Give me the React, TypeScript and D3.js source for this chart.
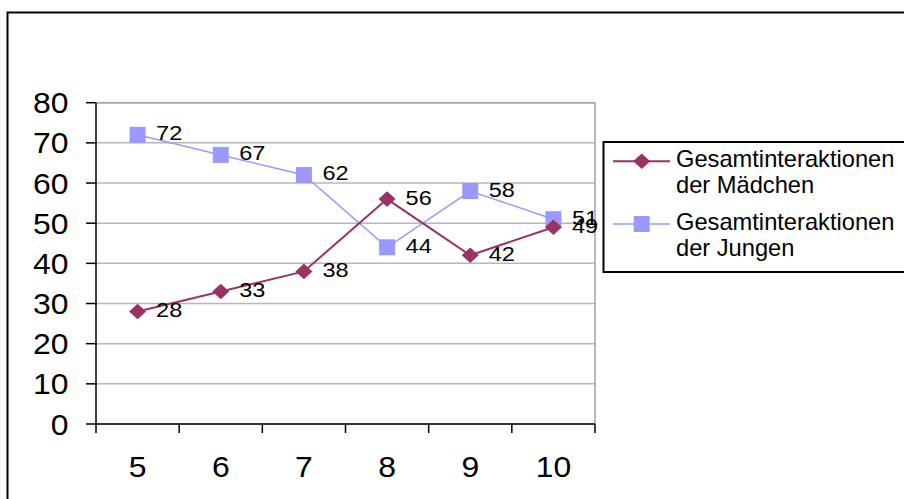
import React from "react";
import * as d3 from "d3";

const categories = ["5", "6", "7", "8", "9", "10"];
const maedchen = [28, 33, 38, 56, 42, 49];
const jungen = [72, 67, 62, 44, 58, 51];
const yTicks = [0, 10, 20, 30, 40, 50, 60, 70, 80];
const seriesNames = [
  ["Gesamtinteraktionen", "der Mädchen"],
  ["Gesamtinteraktionen", "der Jungen"],
];

const W = 904;
const H = 499;
const M = { left: 96, right: 595, top: 102.7, bottom: 424 };
const C_M = "#993366";
const C_J = "#9999FF";
const FONT = "'Liberation Sans', Arial, sans-serif";

type TProps = { x: number; y: number; sx: number; size: number; anchor?: string; children: React.ReactNode };
function SText({ x, y, sx, size, anchor = "start", children }: TProps) {
  return (
    <text transform={`translate(${x},${y}) scale(${sx},1)`} textAnchor={anchor} fontSize={size} fill="#000">
      {children}
    </text>
  );
}

export default function App() {
  const x = d3.scaleBand<string>().domain(categories).range([M.left, M.right]).paddingInner(0).paddingOuter(0);
  const y = d3.scaleLinear().domain([0, 80]).range([M.bottom, M.top]);
  const cx = (c: string) => (x(c) as number) + x.bandwidth() / 2;
  const line = d3
    .line<number>()
    .x((_, i) => cx(categories[i]))
    .y((d) => y(d));
  const diamond = (px: number, py: number, r = 8.5, ry = 7.8) =>
    `M${px},${py - ry}L${px + r},${py}L${px},${py + ry}L${px - r},${py}Z`;
  const boundaries = [...categories.map((c) => x(c) as number), M.right];

  return (
    <div style={{ position: "absolute", left: 0, top: 0 }}>
      <svg width={W} height={H} style={{ display: "block", fontFamily: FONT }}>
        <rect x={0} y={0} width={W} height={H} fill="#fff" />
        <rect x={7.5} y={12.5} width={W + 20} height={H + 20} fill="none" stroke="#000" strokeWidth={2} />
        {yTicks.map((t) => (
          <line key={"g" + t} x1={M.left} x2={M.right} y1={y(t)} y2={y(t)} stroke="#b8b8b8" strokeWidth={1.5} />
        ))}
        <line x1={M.right} x2={M.right} y1={M.top} y2={M.bottom} stroke="#a0a0a0" strokeWidth={1.5} />
        <line x1={M.left} x2={M.right} y1={M.top} y2={M.top} stroke="#a0a0a0" strokeWidth={1.5} />
        <line x1={M.left} x2={M.left} y1={M.top} y2={M.bottom} stroke="#000" strokeWidth={1.5} />
        <line x1={M.left} x2={M.right} y1={M.bottom} y2={M.bottom} stroke="#000" strokeWidth={1.5} />
        {yTicks.map((t) => (
          <g key={"yt" + t}>
            <line x1={M.left - 10} x2={M.left} y1={y(t)} y2={y(t)} stroke="#000" strokeWidth={1.5} />
            <SText x={68.5} y={y(t) + 10.5} sx={1.1} size={29} anchor="end">
              {t}
            </SText>
          </g>
        ))}
        {boundaries.map((b, i) => (
          <line key={"xt" + i} x1={b} x2={b} y1={M.bottom} y2={M.bottom + 9} stroke="#000" strokeWidth={1.5} />
        ))}
        {categories.map((c) => (
          <SText key={"xl" + c} x={cx(c)} y={476.5} sx={1.1} size={29} anchor="middle">
            {c}
          </SText>
        ))}
        <path d={line(jungen) || ""} fill="none" stroke={C_J} strokeWidth={1.5} />
        <path d={line(maedchen) || ""} fill="none" stroke={C_M} strokeWidth={2} />
        {jungen.map((v, i) => (
          <rect key={"js" + i} x={cx(categories[i]) - 8} y={y(v) - 8} width={16} height={16} fill={C_J} />
        ))}
        {maedchen.map((v, i) => (
          <path key={"md" + i} d={diamond(cx(categories[i]), y(v))} fill={C_M} />
        ))}
        {jungen.map((v, i) => (
          <SText key={"jl" + i} x={cx(categories[i]) + 18.5} y={y(v) + 5.5} sx={1.12} size={21}>
            {v}
          </SText>
        ))}
        {maedchen.map((v, i) => (
          <SText key={"ml" + i} x={cx(categories[i]) + 18.5} y={y(v) + 5.5} sx={1.12} size={21}>
            {v}
          </SText>
        ))}
        <rect x={603.5} y={142} width={400} height={130} fill="#fff" stroke="#000" strokeWidth={2} />
        {[C_M, C_J].map((col, i) => {
          const ly = i === 0 ? 161.3 : 224;
          return (
            <g key={"lg" + i}>
              <line x1={613} x2={670} y1={ly} y2={ly} stroke={col} strokeWidth={i === 0 ? 2 : 1.5} />
              {i === 0 ? (
                <path d={diamond(641.7, ly)} fill={col} />
              ) : (
                <rect x={641.7 - 8} y={ly - 8} width={16} height={16} fill={col} />
              )}
              <SText x={676} y={ly + 5.5} sx={1.03} size={23}>
                {seriesNames[i][0]}
              </SText>
              <SText x={676} y={ly + 32} sx={1.03} size={23}>
                {seriesNames[i][1]}
              </SText>
            </g>
          );
        })}
      </svg>
    </div>
  );
}
